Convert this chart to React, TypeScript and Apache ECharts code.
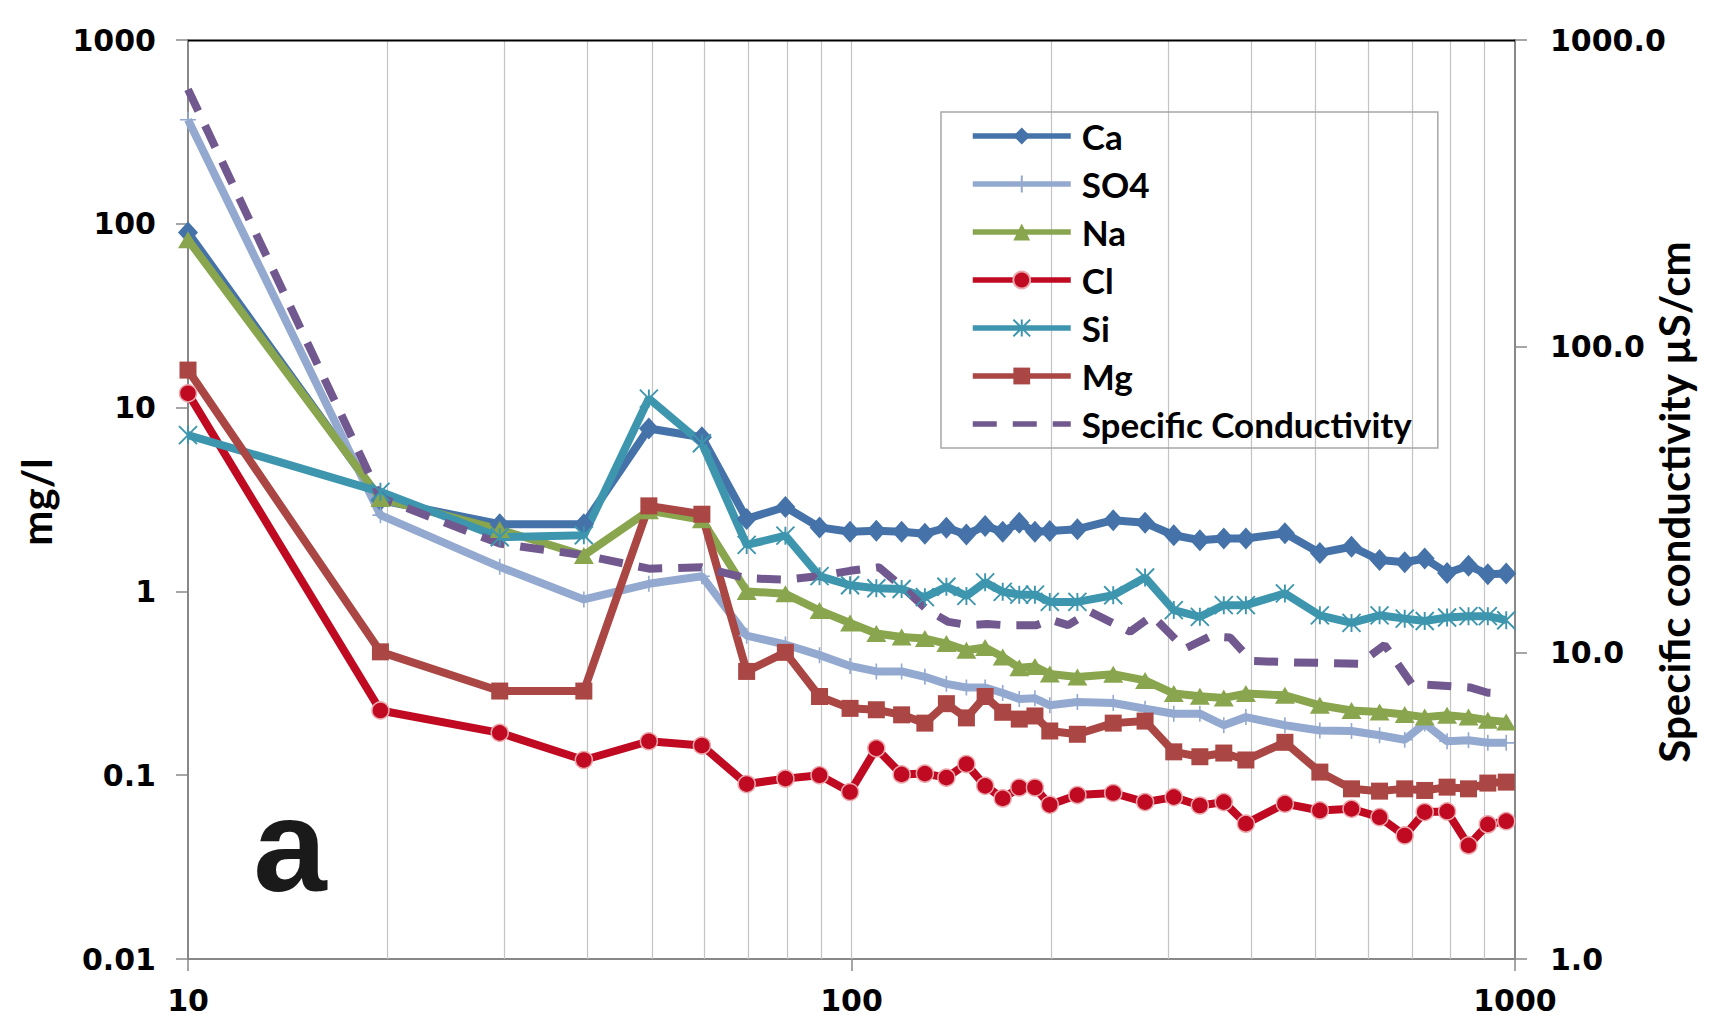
import React, { useEffect, useRef } from "react";
import * as echarts from "echarts";

// ---- data ----
const X_CHEM = [10, 19.5, 29.5, 39.5, 49.5, 59.5, 69.5, 79.5, 89.5, 99.5, 109, 119, 129, 139, 149, 159, 169, 179, 189, 199, 219, 248, 277, 306, 335, 364, 393, 450, 508, 567, 625, 682, 731, 790, 851, 910, 970];
const CA = [89.7, 3.14, 2.32, 2.32, 7.7, 6.9, 2.48, 2.88, 2.23, 2.11, 2.14, 2.11, 2.06, 2.22, 2.04, 2.27, 2.11, 2.36, 2.11, 2.13, 2.18, 2.44, 2.36, 2.02, 1.9, 1.94, 1.94, 2.07, 1.62, 1.75, 1.48, 1.44, 1.51, 1.26, 1.38, 1.24, 1.25];
const SO4 = [368, 2.6, 1.36, 0.904, 1.1, 1.21, 0.574, 0.514, 0.45, 0.393, 0.367, 0.367, 0.343, 0.314, 0.3, 0.3, 0.28, 0.26, 0.262, 0.24, 0.25, 0.247, 0.23, 0.216, 0.216, 0.187, 0.207, 0.187, 0.175, 0.174, 0.165, 0.156, 0.191, 0.153, 0.155, 0.15, 0.15];
const NA = [81.8, 3.2, 2.17, 1.57, 2.75, 2.45, 1.0, 0.97, 0.787, 0.673, 0.59, 0.565, 0.554, 0.52, 0.478, 0.495, 0.44, 0.384, 0.39, 0.355, 0.342, 0.354, 0.328, 0.278, 0.269, 0.263, 0.278, 0.272, 0.24, 0.225, 0.221, 0.214, 0.207, 0.212, 0.207, 0.199, 0.195];
const CL = [11.96, 0.225, 0.17, 0.121, 0.153, 0.145, 0.0895, 0.0958, 0.1, 0.081, 0.14, 0.101, 0.102, 0.097, 0.115, 0.0875, 0.0748, 0.0857, 0.0857, 0.069, 0.078, 0.08, 0.0714, 0.076, 0.0684, 0.0714, 0.0545, 0.07, 0.0643, 0.0656, 0.0591, 0.047, 0.063, 0.0635, 0.0415, 0.054, 0.0562];
const SI = [7.09, 3.48, 1.97, 2.02, 11.2, 6.4, 1.79, 2.01, 1.21, 1.08, 1.04, 1.03, 0.93, 1.06, 0.945, 1.12, 0.995, 0.96, 0.96, 0.877, 0.877, 0.953, 1.19, 0.791, 0.727, 0.842, 0.842, 0.975, 0.741, 0.674, 0.741, 0.711, 0.69, 0.721, 0.733, 0.733, 0.697];
const MG = [16.0, 0.469, 0.287, 0.287, 2.92, 2.63, 0.367, 0.466, 0.268, 0.231, 0.227, 0.213, 0.192, 0.245, 0.205, 0.268, 0.22, 0.202, 0.21, 0.174, 0.167, 0.192, 0.197, 0.134, 0.126, 0.132, 0.121, 0.151, 0.104, 0.0843, 0.0819, 0.0843, 0.0826, 0.0861, 0.0843, 0.0906, 0.0917];
const X_SC = [10, 19.5, 29.5, 39.5, 49.5, 59.5, 69.5, 79.5, 89.5, 99.5, 110, 120, 130, 140, 150, 160, 170, 180, 190, 200, 212, 229, 263, 284, 318, 347, 372, 401, 460, 520, 583, 636, 699, 780, 855, 910, 970];
const SC = [690, 32, 22.7, 20.8, 18.8, 19.0, 17.5, 17.3, 17.8, 18.5, 19.0, 16.2, 13.8, 12.6, 12.3, 12.4, 12.3, 12.3, 12.3, 12.8, 12.3, 13.6, 11.7, 13.2, 10.3, 11.3, 11.2, 9.4, 9.3, 9.25, 9.2, 10.6, 7.9, 7.8, 7.7, 7.4, 7.35];
const GRID_X = [20, 30, 40, 50, 60, 70, 80, 90, 100, 200, 300, 400, 500, 600, 700, 800, 900];
const SERIES_NAMES = ["Ca", "SO4", "Na", "Cl", "Si", "Mg", "Specific Conductivity"];

const PLUS = "path://M10,0L10,20M0,10L20,10";
const STAR = "path://M0,0L20,20M20,0L0,20M10,0L10,20";

const LABEL_FONT = { fontFamily: "DejaVu Sans", fontWeight: "bold" as const, fontSize: 30, color: "#000" };
const LINE_W = 8;
const LEGEND_LINE_W = 5.5;

function pairs(xs: number[], ys: number[]) {
  return xs.map((x, i) => [x, ys[i]]);
}

export default function App() {
  const ref = useRef<HTMLDivElement>(null);
  useEffect(() => {
    document.body.style.margin = "0";
    if (!ref.current) return;
    const chart = echarts.init(ref.current, null, { renderer: "svg" });

    const mk = (name: string, xs: number[], ys: number[], color: string, symbol: string, size: any, itemExtra: any = {}, lineExtra: any = {}, yAxisIndex = 0, showSym = true) => ({
      type: "line",
      name,
      yAxisIndex,
      data: pairs(xs, ys),
      symbol,
      symbolSize: size,
      showSymbol: showSym,
      lineStyle: { color, width: LINE_W, ...lineExtra },
      itemStyle: { color, ...itemExtra },
      emphasis: { disabled: true },
      z: 3,
    });

    const ca: any = mk("Ca", X_CHEM, CA, "#4572A8", "diamond", [20, 22]);
    ca.markLine = {
      silent: true,
      z: 1,
      symbol: ["none", "none"],
      label: { show: false },
      emphasis: { disabled: true },
      lineStyle: { color: "#C3C3C3", width: 1.2, type: "solid" },
      data: GRID_X.map((v) => ({ xAxis: v })),
    };

    const option: any = {
      animation: false,
      grid: { left: 188, right: 197, top: 40, bottom: 70, containLabel: false },
      xAxis: {
        type: "log",
        logBase: 10,
        min: 10,
        max: 1000,
        axisLine: { show: true, lineStyle: { color: "#888888", width: 2 } },
        axisTick: { show: true, inside: false, length: 12, lineStyle: { color: "#888888", width: 1.5 } },
        splitLine: { show: false },
        minorTick: { show: false },
        axisLabel: { ...LABEL_FONT, margin: 26, formatter: (v: number) => String(Math.round(v)) },
      },
      yAxis: [
        {
          type: "log",
          logBase: 10,
          min: 0.01,
          max: 1000,
          position: "left",
          axisLine: { show: true, lineStyle: { color: "#888888", width: 2 } },
          axisTick: { show: true, inside: false, length: 12, lineStyle: { color: "#888888", width: 1.5 } },
          splitLine: { show: false },
          axisLabel: {
            ...LABEL_FONT,
            margin: 32,
            formatter: (v: number) => {
              const e = Math.round(Math.log10(v));
              return e >= 0 ? String(Math.pow(10, e)) : Math.pow(10, e).toFixed(-e);
            },
          },
        },
        {
          type: "log",
          logBase: 10,
          min: 1,
          max: 1000,
          position: "right",
          axisLine: { show: true, lineStyle: { color: "#888888", width: 2 } },
          axisTick: { show: true, inside: false, length: 12, lineStyle: { color: "#888888", width: 1.5 } },
          splitLine: { show: false },
          axisLabel: {
            ...LABEL_FONT,
            margin: 35,
            formatter: (v: number) => Number(v).toFixed(1),
          },
        },
      ],
      legend: {
        orient: "vertical",
        left: 941,
        top: 112,
        padding: [6, 26, 6, 29],
        itemWidth: 98,
        itemHeight: 21,
        itemGap: 12,
        borderColor: "#A6A6A6",
        borderWidth: 1.5,
        selectedMode: false,
        data: SERIES_NAMES,
        lineStyle: { width: LEGEND_LINE_W },
        textStyle: { fontFamily: "Lato", fontWeight: "bold", fontSize: 35, lineHeight: 36, color: "#000", padding: [0, 0, 0, 6] },
      },
      graphic: [
        {
          type: "line",
          shape: { x1: 188, y1: 40.5, x2: 1515, y2: 40.5 },
          style: { stroke: "#000", lineWidth: 2 },
          z: 10,
        },
        {
          type: "text",
          x: 290,
          y: 845,
          style: { text: "a", font: "bold 132px 'Liberation Sans'", fill: "#1a1a1a", align: "center", verticalAlign: "middle", textAlign: "center", textVerticalAlign: "middle" },
        },
        {
          type: "text",
          x: 36,
          y: 502,
          rotation: Math.PI / 2,
          style: { text: "mg/l", font: "bold 42px Lato", fill: "#000", align: "center", verticalAlign: "middle", textAlign: "center", textVerticalAlign: "middle" },
        },
        {
          type: "text",
          x: 1674,
          y: 502,
          rotation: Math.PI / 2,
          style: { text: "Specific conductivity \u00b5S/cm", font: "bold 42px Lato", fill: "#000", align: "center", verticalAlign: "middle", textAlign: "center", textVerticalAlign: "middle" },
        },
      ],
      series: [
        ca,
        mk("SO4", X_CHEM, SO4, "#93A9CF", PLUS, 16, { borderColor: "#93A9CF", borderWidth: 1.6 }),
        mk("Na", X_CHEM, NA, "#89A54E", "triangle", [20, 17]),
        mk("Cl", X_CHEM, CL, "#C00A22", "circle", 17, { borderColor: "#EBA9AE", borderWidth: 1.5 }),
        mk("Si", X_CHEM, SI, "#3D96AE", STAR, 18, { borderColor: "#3D96AE", borderWidth: 1.9 }),
        mk("Mg", X_CHEM, MG, "#AA4643", "rect", 17),
        mk("Specific Conductivity", X_SC, SC, "#71588F", "circle", 0, { color: "rgba(0,0,0,0)", borderWidth: 0 }, { type: [24, 16] }, 1, false),
      ],
    };

    chart.setOption(option);
    return () => chart.dispose();
  }, []);

  return <div ref={ref} style={{ width: 1712, height: 1029 }} />;
}
